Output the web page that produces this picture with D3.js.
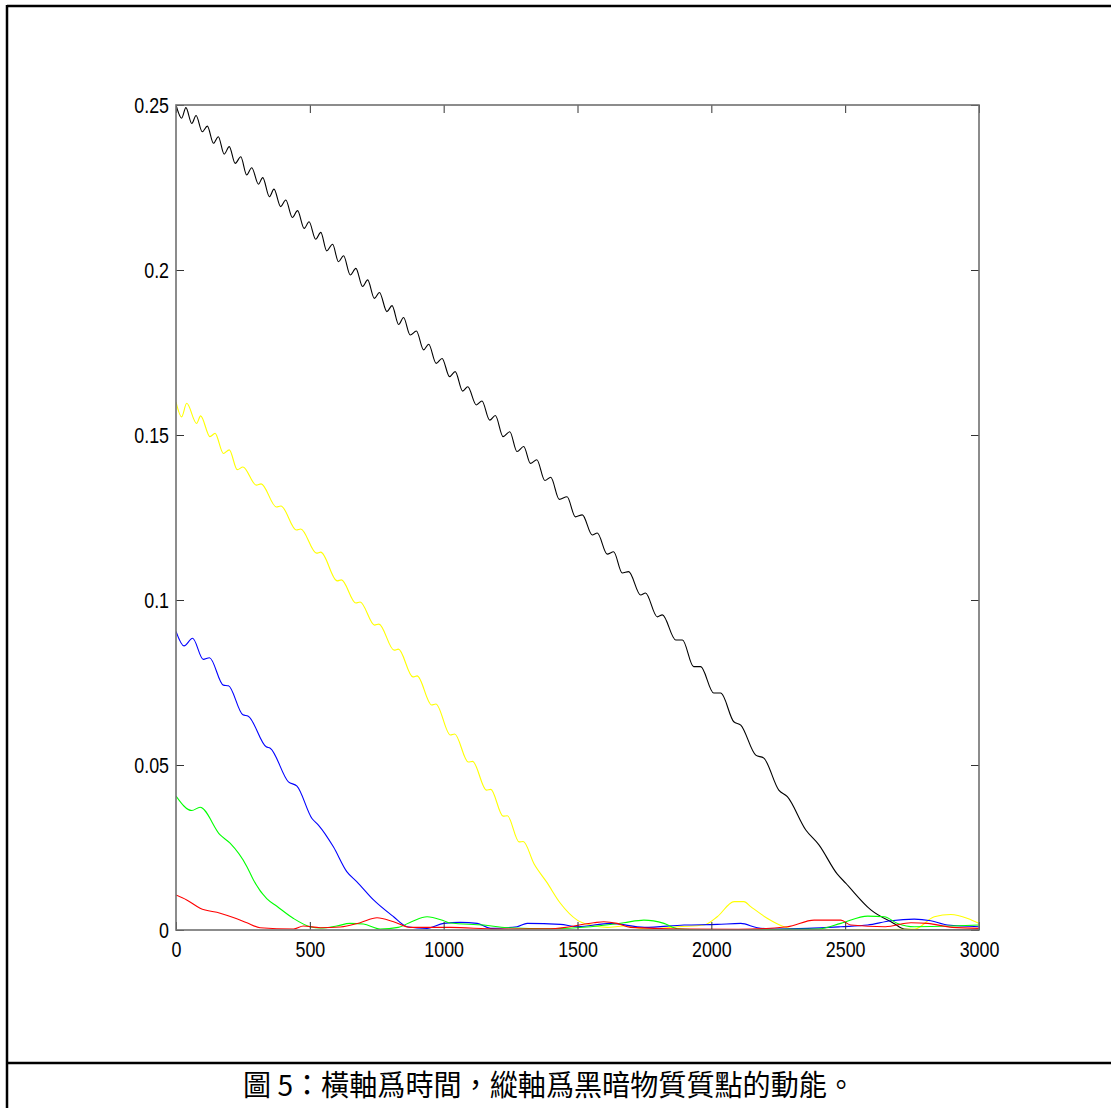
<!DOCTYPE html>
<html>
<head>
<meta charset="utf-8">
<script src="https://cdn.jsdelivr.net/npm/d3@7"></script>
<style>
  html, body { margin: 0; padding: 0; background: #fff; }
  svg { display: block; }
</style>
</head>
<body>
<script>
// Kinetic energy of dark-matter particles over time, five particles.
const xTicks = [0, 500, 1000, 1500, 2000, 2500, 3000];
const yTicks = [0, 0.05, 0.1, 0.15, 0.2, 0.25];
const yTickLabels = ["0", "0.05", "0.1", "0.15", "0.2", "0.25"];
const caption = "圖 5：橫軸爲時間，縱軸爲黑暗物質質點的動能。";

// [time, energy]
const blackSeries = [
  [0,0.2500],[21,0.2460],[37,0.2492],[59,0.2444],[75,0.2468],[98,0.2419],[117,0.2436],
  [140,0.2384],[158,0.2404],[180,0.2351],[199,0.2374],[221,0.2323],[242,0.2343],
  [264,0.2288],[283,0.2310],[308,0.2260],[324,0.2280],[349,0.2222],[366,0.2245],
  [391,0.2192],[410,0.2212],[435,0.2159],[454,0.2180],[479,0.2126],[497,0.2146],
  [522,0.2093],[541,0.2114],[563,0.2058],[585,0.2078],[607,0.2025],[626,0.2043],
  [651,0.1985],[672,0.2005],[697,0.1950],[716,0.1970],[741,0.1914],[760,0.1932],
  [788,0.1874],[807,0.1892],[832,0.1835],[850,0.1856],[875,0.1803],[898,0.1815],
  [925,0.1758],[944,0.1775],[972,0.1717],[994,0.1732],[1022,0.1677],[1043,0.1692],
  [1071,0.1633],[1090,0.1646],[1122,0.1591],[1143,0.1603],[1172,0.1545],[1193,0.1559],
  [1222,0.1495],[1247,0.1510],[1274,0.1450],[1299,0.1465],[1324,0.1414],[1348,0.1425],
  [1378,0.1362],[1400,0.1372],[1432,0.1305],[1461,0.1313],[1492,0.1252],[1518,0.1258],
  [1555,0.1197],[1574,0.1203],[1611,0.1139],[1635,0.1146],[1667,0.1082],[1691,0.1086],
  [1736,0.1015],[1754,0.1021],[1798,0.0949],[1817,0.0955],[1867,0.0879],[1892,0.0879],
  [1934,0.0798],[1960,0.0798],[2009,0.0718],[2035,0.0718],[2084,0.0631],[2110,0.0621],
  [2166,0.0530],[2196,0.0521],[2252,0.0424],[2284,0.0404],[2353,0.0303],[2402,0.0258],
  [2470,0.0170],[2502,0.0142],[2596,0.0061],[2682,0.0020],[2720,0.0003],[2800,0.0000],
  [3000,0.0000]
];

const yellowSeries = [
  [0,0.1600],[21,0.1555],[40,0.1596],[77,0.1535],[92,0.1558],[127,0.1495],[146,0.1505],
  [177,0.1444],[199,0.1455],[229,0.1395],[250,0.1403],[300,0.1348],[318,0.1352],
  [375,0.1282],[392,0.1285],[450,0.1212],[466,0.1215],[525,0.1142],[541,0.1145],
  [602,0.1058],[618,0.1061],[672,0.0991],[688,0.0994],[742,0.0924],[758,0.0927],
  [815,0.0848],[831,0.0851],[885,0.0767],[901,0.0770],[955,0.0682],[971,0.0685],
  [1025,0.0591],[1041,0.0594],[1092,0.0509],[1108,0.0511],[1160,0.0424],[1176,0.0426],
  [1222,0.0345],[1238,0.0346],[1282,0.0267],[1297,0.0268],[1338,0.0200],[1385,0.0145],
  [1436,0.0081],[1499,0.0030],[1549,0.0015],[1611,0.0008],[1673,0.0012],[1760,0.0003],
  [1873,0.0010],[1973,0.0015],[2022,0.0040],[2085,0.0086],[2122,0.0086],[2147,0.0071],
  [2210,0.0035],[2272,0.0010],[2310,0.0003],[2500,0.0000],[2760,0.0003],[2833,0.0040],
  [2895,0.0047],[2958,0.0035],[3000,0.0020]
];

const blueSeries = [
  [0,0.0905],[30,0.0861],[62,0.0884],[102,0.0820],[125,0.0825],[177,0.0742],[196,0.0740],
  [250,0.0652],[270,0.0648],[337,0.0555],[352,0.0551],[420,0.0449],[452,0.0436],
  [508,0.0338],[532,0.0318],[588,0.0252],[638,0.0177],[676,0.0146],[738,0.0091],
  [813,0.0040],[863,0.0010],[938,0.0005],[1000,0.0020],[1062,0.0023],[1125,0.0020],
  [1175,0.0005],[1274,0.0010],[1312,0.0020],[1436,0.0017],[1500,0.0010],[1623,0.0020],
  [1750,0.0008],[1898,0.0015],[2022,0.0017],[2110,0.0020],[2172,0.0007],[2235,0.0003],
  [2360,0.0005],[2484,0.0010],[2584,0.0015],[2671,0.0028],[2758,0.0033],[2820,0.0028],
  [2883,0.0015],[3000,0.0010]
];

const greenSeries = [
  [0,0.0406],[59,0.0362],[90,0.0372],[165,0.0288],[202,0.0263],[265,0.0192],[289,0.0152],
  [339,0.0095],[377,0.0072],[439,0.0035],[501,0.0010],[540,0.0006],[600,0.0012],
  [650,0.0020],[700,0.0018],[763,0.0003],[830,0.0008],[880,0.0025],[938,0.0040],
  [1000,0.0028],[1025,0.0021],[1150,0.0015],[1237,0.0007],[1400,0.0004],[1549,0.0010],
  [1673,0.0022],[1748,0.0030],[1823,0.0020],[1873,0.0004],[2000,0.0000],[2400,0.0003],
  [2484,0.0020],[2584,0.0042],[2646,0.0040],[2696,0.0020],[2758,0.0010],[2900,0.0012],
  [3000,0.0015]
];

const redSeries = [
  [0,0.0106],[40,0.0091],[90,0.0066],[165,0.0051],[214,0.0038],[265,0.0022],[314,0.0007],
  [439,0.0003],[476,0.0012],[539,0.0007],[614,0.0009],[688,0.0022],[751,0.0037],
  [813,0.0025],[876,0.0008],[1025,0.0008],[1200,0.0003],[1400,0.0004],[1561,0.0022],
  [1598,0.0025],[1648,0.0020],[1698,0.0008],[1900,0.0003],[2100,0.0002],[2284,0.0010],
  [2384,0.0030],[2484,0.0030],[2521,0.0015],[2650,0.0010],[2746,0.0022],[2808,0.0020],
  [2900,0.0008],[3000,0.0005]
];

const seriesList = [
  { values: blackSeries,  color: "#000000" },
  { values: yellowSeries, color: "#ffff00" },
  { values: blueSeries,   color: "#0000ff" },
  { values: greenSeries,  color: "#00ff00" },
  { values: redSeries,    color: "#ff0000" }
];

const W = 1111, H = 1108;
const plot = { left: 176, right: 979, top: 105, bottom: 930 };

const svg = d3.select("body").append("svg")
  .attr("width", W).attr("height", H)
  .attr("viewBox", `0 0 ${W} ${H}`);

svg.append("rect").attr("width", W).attr("height", H).attr("fill", "#fff");

// Page frame
const frame = svg.append("g").attr("stroke", "#000").attr("stroke-width", 2.5).attr("fill", "none");
frame.append("line").attr("x1", 7).attr("y1", 6).attr("x2", W).attr("y2", 6);
frame.append("line").attr("x1", 7).attr("y1", 5).attr("x2", 7).attr("y2", H);
frame.append("line").attr("x1", 7).attr("y1", 1063).attr("x2", W).attr("y2", 1063);

const x = d3.scaleLinear().domain([0, 3000]).range([plot.left, plot.right]);
const y = d3.scaleLinear().domain([0, 0.25]).range([plot.bottom, plot.top]);

svg.append("clipPath").attr("id", "plotclip")
  .append("rect")
  .attr("x", plot.left).attr("y", plot.top - 2)
  .attr("width", plot.right - plot.left).attr("height", plot.bottom - plot.top + 2);

const line = d3.line()
  .x(d => x(d[0]))
  .y(d => y(d[1]))
  .curve(d3.curveMonotoneX);

const lines = svg.append("g").attr("clip-path", "url(#plotclip)");
seriesList.forEach(s => {
  lines.append("path")
    .datum(s.values)
    .attr("fill", "none")
    .attr("stroke", s.color)
    .attr("stroke-width", 1.1)
    .attr("stroke-linejoin", "round")
    .attr("d", line);
});

// Axes: ticks inward on all four sides
const tickLen = 8;
const fontFam = "'Liberation Sans', Arial, sans-serif";

const axBottom = d3.axisBottom(x).tickValues(xTicks).tickSize(-tickLen).tickPadding(12)
  .tickFormat(d3.format("d"));
const axTop = d3.axisTop(x).tickValues(xTicks).tickSize(-tickLen).tickFormat("");
const axLeft = d3.axisLeft(y).tickValues(yTicks).tickSize(-tickLen).tickPadding(7)
  .tickFormat((d, i) => yTickLabels[i]);
const axRight = d3.axisRight(y).tickValues(yTicks).tickSize(-tickLen).tickFormat("");

// Tick labels are set in a narrow face: full height, horizontally condensed
function styleAxis(g) {
  g.select(".domain").remove();
  g.selectAll(".tick line").attr("stroke", "#333").attr("stroke-width", 1);
  g.selectAll(".tick text")
    .attr("fill", "#000")
    .style("font-family", fontFam)
    .style("font-size", "21.5px")
    .each(function () {
      const len = this.getComputedTextLength();
      if (len > 0) {
        d3.select(this).attr("textLength", len * 0.83).attr("lengthAdjust", "spacingAndGlyphs");
      }
    });
}

svg.append("g").attr("transform", `translate(0,${plot.bottom})`).call(axBottom).call(styleAxis);
svg.append("g").attr("transform", `translate(0,${plot.top})`).call(axTop).call(styleAxis);
svg.append("g").attr("transform", `translate(${plot.left},0)`).call(axLeft).call(styleAxis)
  .selectAll(".tick text").attr("dy", "0.35em");
svg.append("g").attr("transform", `translate(${plot.right},0)`).call(axRight).call(styleAxis);

// Axes box
svg.append("rect")
  .attr("x", plot.left).attr("y", plot.top)
  .attr("width", plot.right - plot.left).attr("height", plot.bottom - plot.top)
  .attr("fill", "none").attr("stroke", "#707070").attr("stroke-width", 1.6);

// Caption
svg.append("text")
  .attr("x", 549).attr("y", 1096)
  .attr("text-anchor", "middle")
  .style("font-family", "'Noto Sans CJK TC', 'Noto Sans CJK SC', sans-serif")
  .style("font-size", "29px")
  .attr("textLength", 612)
  .attr("lengthAdjust", "spacingAndGlyphs")
  .attr("fill", "#000")
  .text(caption);
</script>
</body>
</html>
